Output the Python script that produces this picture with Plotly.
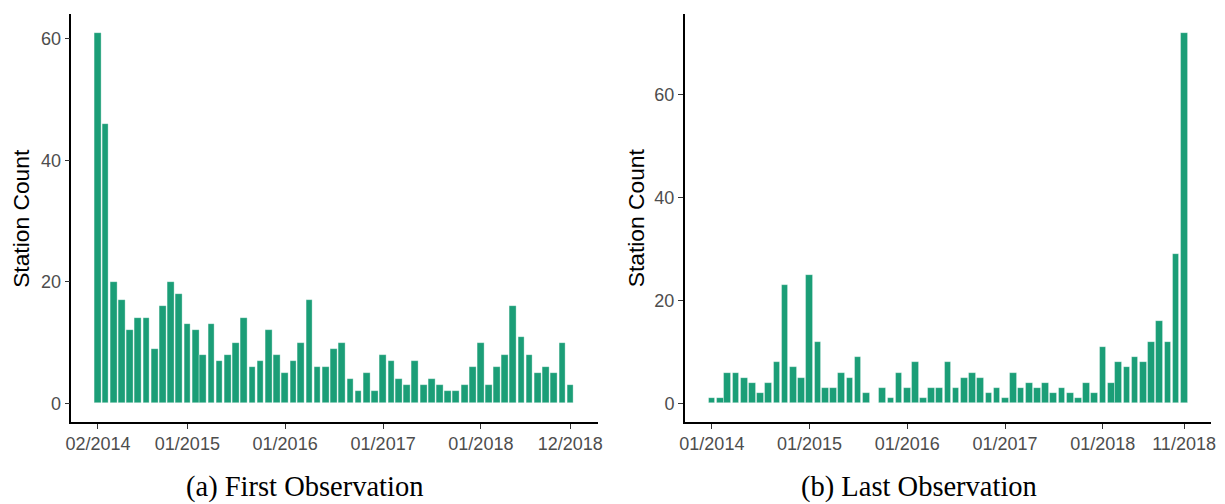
import pandas as pd
import plotly.graph_objects as go

# ---- data ----
first_months = pd.date_range("2014-02-01", "2018-12-01", freq="MS")
first_counts = [61, 46, 20, 17, 12, 14, 14, 9, 16, 20, 18,
                13, 12, 8, 13, 7, 8, 10, 14, 6, 7, 12, 8,
                5, 7, 10, 17, 6, 6, 9, 10, 4, 2, 5, 2,
                8, 7, 4, 3, 7, 3, 4, 3, 2, 2, 3, 6,
                10, 3, 6, 8, 16, 11, 8, 5, 6, 5, 10, 3]

last_months = pd.date_range("2014-01-01", "2018-11-01", freq="MS")
last_counts = [1, 1, 6, 6, 5, 4, 2, 4, 8, 23, 7, 5,
               25, 12, 3, 3, 6, 5, 9, 2, 0, 3, 1, 6,
               3, 8, 1, 3, 3, 8, 3, 5, 6, 5, 2, 3,
               1, 6, 3, 4, 3, 4, 2, 3, 2, 1, 4, 2,
               11, 4, 8, 7, 9, 8, 12, 16, 12, 29, 72]

first_tickvals = ["2014-02-01", "2015-01-01", "2016-01-01", "2017-01-01", "2018-01-01", "2018-12-01"]
first_ticktext = ["02/2014", "01/2015", "01/2016", "01/2017", "01/2018", "12/2018"]
last_tickvals = ["2014-01-01", "2015-01-01", "2016-01-01", "2017-01-01", "2018-01-01", "2018-11-01"]
last_ticktext = ["01/2014", "01/2015", "01/2016", "01/2017", "01/2018", "11/2018"]
y_ticks = [0, 20, 40, 60]

captions = ["(a) First Observation", "(b) Last Observation"]
y_title = "Station Count"

# ---- style ----
W, H = 1225, 504
bar_color = "#1B9E77"
bar_width_ms = 25.2 * 86400000
tick_font = dict(family="Liberation Sans, Arial, sans-serif", size=18, color="#4D4D4D")
title_font = dict(family="Liberation Sans, Arial, sans-serif", size=22.8, color="black")
cap_font = dict(family="Liberation Serif, Times New Roman, serif", size=28.5, color="black")

fig = go.Figure()
fig.add_trace(go.Bar(x=first_months, y=first_counts, width=bar_width_ms,
                     marker=dict(color=bar_color, line=dict(color="rgba(255,255,255,0.55)", width=0.6)),
                     xaxis="x", yaxis="y", showlegend=False))
fig.add_trace(go.Bar(x=last_months, y=last_counts, width=bar_width_ms,
                     marker=dict(color=bar_color, line=dict(color="rgba(255,255,255,0.55)", width=0.6)),
                     xaxis="x2", yaxis="y2", showlegend=False))

ydom = [1 - 422 / H, 1 - 14 / H]
common_axis = dict(showline=True, linecolor="black", linewidth=1.7, ticks="outside",
                   ticklen=5, tickwidth=1.4, tickcolor="#333333", showgrid=False,
                   zeroline=False, tickfont=tick_font)

fig.update_layout(
    width=W, height=H,
    margin=dict(l=0, r=0, t=0, b=0),
    paper_bgcolor="white", plot_bgcolor="white",
    bargap=0,
    xaxis=dict(domain=[66 / W, 597 / W], type="date", range=["2013-10-25", "2019-03-13"],
               tickvals=first_tickvals, ticktext=first_ticktext, anchor="y", **common_axis),
    yaxis=dict(domain=ydom, range=[-3.05, 64.05], tickvals=y_ticks, anchor="x", **common_axis),
    xaxis2=dict(domain=[685 / W, 1216 / W], type="date", range=["2013-09-22", "2019-02-10"],
                tickvals=last_tickvals, ticktext=last_ticktext, anchor="y2", **common_axis),
    yaxis2=dict(domain=ydom, range=[-3.6, 75.6], tickvals=y_ticks, anchor="x2", **common_axis),
)

ymid = 1 - 218 / H
fig.add_annotation(x=15 / W, y=ymid, xref="paper", yref="paper", text=y_title, textangle=-90,
                   showarrow=False, font=title_font, xanchor="center", yanchor="middle")
fig.add_annotation(x=636 / W, y=ymid, xref="paper", yref="paper", text=y_title, textangle=-90,
                   showarrow=False, font=title_font, xanchor="center", yanchor="middle")
fig.add_annotation(x=301 / W, y=1 - 487 / H, xref="paper", yref="paper", text=captions[0],
                   showarrow=False, font=cap_font, xanchor="center", yanchor="middle")
fig.add_annotation(x=921 / W, y=1 - 487 / H, xref="paper", yref="paper", text=captions[1],
                   showarrow=False, font=cap_font, xanchor="center", yanchor="middle")

fig.write_html("out.html")
